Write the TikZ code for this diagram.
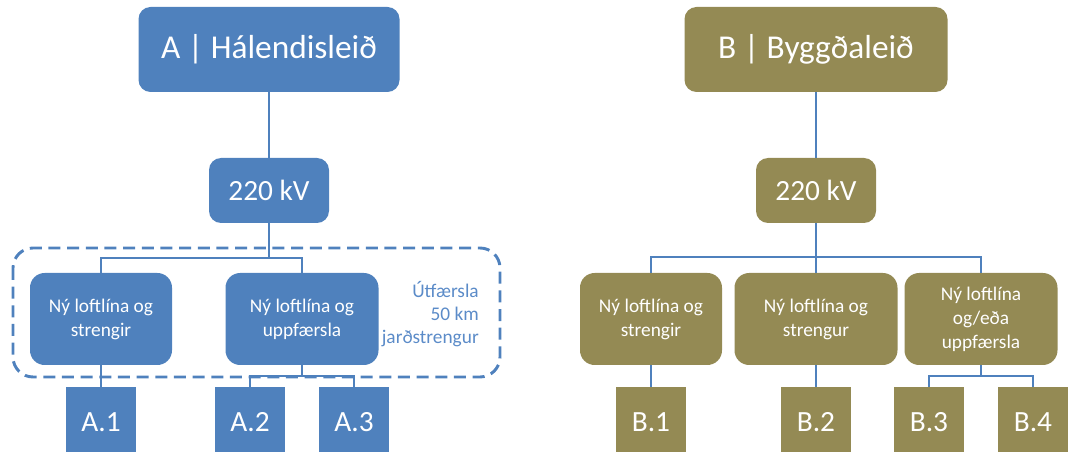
\documentclass[tikz,border=0pt]{standalone}
\usepackage{fontspec}
\setmainfont{Carlito}
\usetikzlibrary{positioning}
\definecolor{hblue}{HTML}{4F81BD}
\definecolor{holive}{HTML}{948A54}
\definecolor{notetxt}{HTML}{5B8BC8}

\tikzset{
  route/.style={side,rounded corners=9pt,inner sep=0pt,minimum width=195.75pt,minimum height=63.75pt,
    text=white,font=\fontsize{25}{30}\selectfont},
  volt/.style={side,rounded corners=9pt,inner sep=0pt,minimum width=90pt,minimum height=48.75pt,
    text=white,font=\fontsize{22}{26}\selectfont},
  option/.style={side,rounded corners=11pt,inner sep=0pt,minimum height=69pt,align=center,
    text=white,font=\fontsize{14.5}{18}\selectfont},
  leaf/.style={side,inner sep=0pt,minimum width=52.5pt,minimum height=52.5pt,
    text=white,font=\fontsize{22}{26}\selectfont},
  link/.style={draw=hblue,line width=1.25pt},
  frame/.style={draw=hblue,line width=2.2pt,dash pattern=on 9pt off 5pt,rounded corners=15pt},
  note/.style={align=right,text=notetxt,inner sep=0pt,font=\fontsize{14.5}{17}\selectfont}
}

\begin{document}
\begin{tikzpicture}[x=0.75pt,y=-0.75pt,on grid]
\useasboundingbox (0,0) rectangle (1072,452);
% A side
\tikzset{side/.style={fill=hblue}}
  \node[route]                    (A)   at (269,49.5)           {A | Hálendisleið};
  \node[volt]                     (Akv) [below=105.75pt of A]   {220 kV};
  \node[option,minimum width=106.5pt]  (Aopt1) at (101,319)     {Ný loftlína og\\strengir};
  \node[option,minimum width=114.75pt] (Aopt2) at (302,319)     {Ný loftlína og\\uppfærsla};
  \node[leaf]                     (A1) [below=77.25pt of Aopt1]             {A.1};
  \node[leaf]                     (A2) [below left=77.25pt and 39pt of Aopt2]  {A.2};
  \node[leaf]                     (A3) [below right=77.25pt and 39pt of Aopt2] {A.3};
  \draw[frame] (13,248) rectangle (500,377);
  \node[note,anchor=east]         (Anote) at (479,314) {Útfærsla\\50 km\\jarðstrengur};
\draw[link] (A.south) -- (Akv.north);
\draw[link] (Aopt1.south) -- (A1.north);
\draw[link] (Akv.south) -- ++(0,35) coordinate (Abus) -| (Aopt1.north)
            (Abus) -| (Aopt2.north);
\draw[link] (Aopt2.south) -- ++(0,11) coordinate (Asub) -| (A2.north)
            (Asub) -| (A3.north);
% B side
\tikzset{side/.style={fill=holive}}
  \node[route,minimum width=197.25pt] (B)   at (816,49.5)      {B | Byggðaleið};
  \node[volt]                     (Bkv) [below=105.75pt of B]   {220 kV};
  \node[option,minimum width=106.5pt]  (Bopt1) at (651,319)     {Ný loftlína og\\strengir};
  \node[option,minimum width=122.25pt] (Bopt2) at (816,319)     {Ný loftlína og\\strengur};
  \node[option,minimum width=114.75pt] (Bopt3) at (981,319)     {Ný loftlína\\og/eða\\uppfærsla};
  \node[leaf]                     (B1) [below=77.25pt of Bopt1]             {B.1};
  \node[leaf]                     (B2) [below=77.25pt of Bopt2]             {B.2};
  \node[leaf]                     (B3) [below left=77.25pt and 39pt of Bopt3]  {B.3};
  \node[leaf]                     (B4) [below right=77.25pt and 39pt of Bopt3] {B.4};
\draw[link] (B.south) -- (Bkv.north);
\draw[link] (Bopt1.south) -- (B1.north);
\draw[link] (Bopt2.south) -- (B2.north);
\draw[link] (Bkv.south) -- ++(0,34) coordinate (Bbus) -| (Bopt1.north)
            (Bbus) -| (Bopt3.north)
            (Bbus) -- (Bopt2.north);
\draw[link] (Bopt3.south) -- ++(0,11) coordinate (Bsub) -| (B3.north)
            (Bsub) -| (B4.north);
\end{tikzpicture}
\end{document}
